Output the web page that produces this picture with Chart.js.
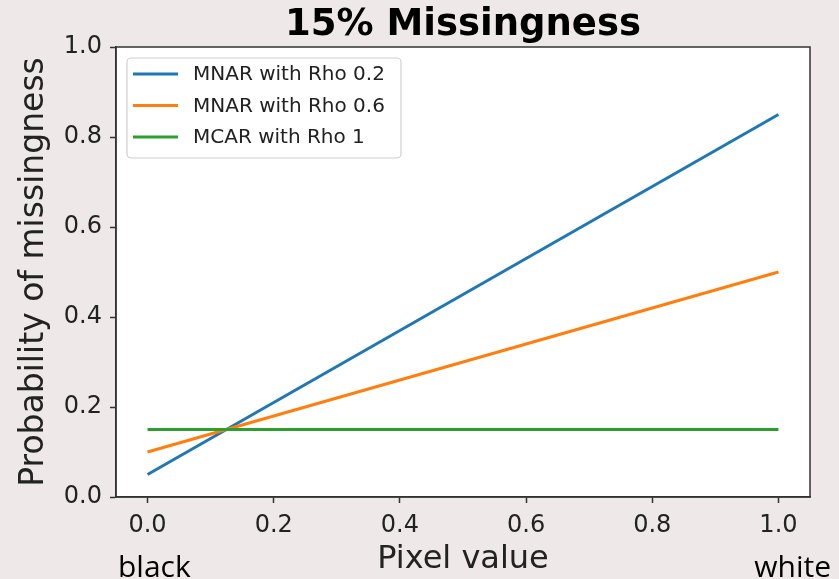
<!DOCTYPE html>
<html>
<head>
<meta charset="utf-8">
<script src="https://cdn.jsdelivr.net/npm/chart.js@4/dist/chart.umd.min.js"></script>
<style>
  html, body { margin: 0; padding: 0; background: #eee8e8; }
  #wrap { width: 839px; height: 579px; }
</style>
</head>
<body>
<div id="wrap"><canvas id="c" width="839" height="579"></canvas></div>
<script>
// Pixel value (0 = black, 1 = white) and probability of missingness at each end
const pixelValues = [0.0, 1.0];
const mnarRho02 = [0.05, 0.85];
const mnarRho06 = [0.10, 0.50];
const mcarRho1 = [0.15, 0.15];

const seriesLabels = ['MNAR with Rho 0.2', 'MNAR with Rho 0.6', 'MCAR with Rho 1'];
const seriesColors = ['#1f77b4', '#ff7f0e', '#2ca02c'];

const xTicks = [0.0, 0.2, 0.4, 0.6, 0.8, 1.0];
const yTicks = [0.0, 0.2, 0.4, 0.6, 0.8, 1.0];

const titleText = '15% Missingness';
const xTitle = 'Pixel value';
const yTitle = 'Probability of missingness';
const leftEndLabel = 'black';
const rightEndLabel = 'white';

const ink = '#222';

function toPoints(xs, ys) { return xs.map((x, i) => ({ x: x, y: ys[i] })); }

const seriesValues = [mnarRho02, mnarRho06, mcarRho1];
const datasets = seriesValues.map((vals, i) => ({
  label: seriesLabels[i],
  data: toPoints(pixelValues, vals),
  borderColor: seriesColors[i],
  backgroundColor: seriesColors[i],
  borderWidth: 3,
  pointRadius: 0,
  tension: 0,
  order: seriesValues.length - i
}));

// Page background, white plot area, frame, titles and legend
const decor = {
  id: 'decor',
  beforeDraw(chart) {
    const { ctx, chartArea: a } = chart;
    ctx.save();
    ctx.fillStyle = '#eee8e8';
    ctx.fillRect(0, 0, chart.width, chart.height);
    ctx.fillStyle = '#ffffff';
    ctx.fillRect(a.left, a.top, a.right - a.left, a.bottom - a.top);
    ctx.restore();
  },
  afterDraw(chart) {
    const { ctx, chartArea: a } = chart;
    ctx.save();
    // frame
    ctx.strokeStyle = '#333';
    ctx.lineWidth = 1.5;
    ctx.strokeRect(a.left, a.top, a.right - a.left, a.bottom - a.top);

    // chart title
    ctx.fillStyle = '#000';
    ctx.font = 'bold 37px "DejaVu Sans"';
    ctx.textAlign = 'center';
    ctx.textBaseline = 'alphabetic';
    ctx.fillText(titleText, (a.left + a.right) / 2, 35);

    // axis titles
    ctx.fillStyle = ink;
    ctx.font = '32px "DejaVu Sans"';
    ctx.fillText(xTitle, (a.left + a.right) / 2, 568);
    ctx.save();
    ctx.font = '33px "DejaVu Sans"';
    ctx.translate(43, (a.top + a.bottom) / 2);
    ctx.rotate(-Math.PI / 2);
    ctx.fillText(yTitle, 0, 0);
    ctx.restore();

    // black / white end labels
    ctx.fillStyle = '#000';
    ctx.font = '30px "Open Sans"';
    ctx.textAlign = 'left';
    ctx.fillText(leftEndLabel, 118, 577);
    ctx.textAlign = 'right';
    ctx.fillText(rightEndLabel, 831, 577);

    // legend
    const bx = 127, by = 58, bw = 274, bh = 100, r = 4;
    ctx.fillStyle = 'rgba(255,255,255,0.8)';
    ctx.strokeStyle = '#d0d0d0';
    ctx.lineWidth = 1.2;
    ctx.beginPath();
    ctx.moveTo(bx + r, by);
    ctx.lineTo(bx + bw - r, by);
    ctx.arcTo(bx + bw, by, bx + bw, by + r, r);
    ctx.lineTo(bx + bw, by + bh - r);
    ctx.arcTo(bx + bw, by + bh, bx + bw - r, by + bh, r);
    ctx.lineTo(bx + r, by + bh);
    ctx.arcTo(bx, by + bh, bx, by + bh - r, r);
    ctx.lineTo(bx, by + r);
    ctx.arcTo(bx, by, bx + r, by, r);
    ctx.closePath();
    ctx.fill();
    ctx.stroke();

    ctx.font = '20px "DejaVu Sans"';
    ctx.textAlign = 'left';
    ctx.textBaseline = 'middle';
    chart.data.datasets.forEach((ds, i) => {
      const yy = 74 + i * 31.5;
      ctx.strokeStyle = ds.borderColor;
      ctx.lineWidth = 3;
      ctx.beginPath();
      ctx.moveTo(133, yy);
      ctx.lineTo(178, yy);
      ctx.stroke();
      ctx.fillStyle = ink;
      ctx.fillText(ds.label, 193, yy + 1);
    });
    ctx.restore();
  }
};

const fmt = v => Number(v).toFixed(1);

new Chart(document.getElementById('c'), {
  type: 'line',
  data: { datasets: datasets },
  plugins: [decor],
  options: {
    responsive: false,
    animation: false,
    devicePixelRatio: 1,
    layout: { padding: { top: 47, right: 29, left: 0, bottom: 0 } },
    plugins: { legend: { display: false }, title: { display: false }, tooltip: { enabled: false } },
    scales: {
      x: {
        type: 'linear',
        min: -0.05,
        max: 1.05,
        afterBuildTicks: s => { s.ticks = xTicks.map(v => ({ value: v })); },
        afterFit: s => { s.height = 82; },
        ticks: { callback: fmt, font: { family: 'DejaVu Sans', size: 24 }, color: ink, padding: 8, maxRotation: 0 },
        grid: { drawOnChartArea: false, drawTicks: true, tickLength: 6, tickColor: '#333', tickWidth: 1.5 },
        border: { display: true, color: '#333', width: 1.5 }
      },
      y: {
        type: 'linear',
        min: 0,
        max: 1,
        afterBuildTicks: s => { s.ticks = yTicks.map(v => ({ value: v })); },
        afterFit: s => { s.width = 116; },
        ticks: { callback: fmt, font: { family: 'DejaVu Sans', size: 24 }, color: ink, padding: 8 },
        grid: { drawOnChartArea: false, drawTicks: true, tickLength: 6, tickColor: '#333', tickWidth: 1.5 },
        border: { display: true, color: '#333', width: 1.5 }
      }
    }
  }
});
</script>
</body>
</html>
